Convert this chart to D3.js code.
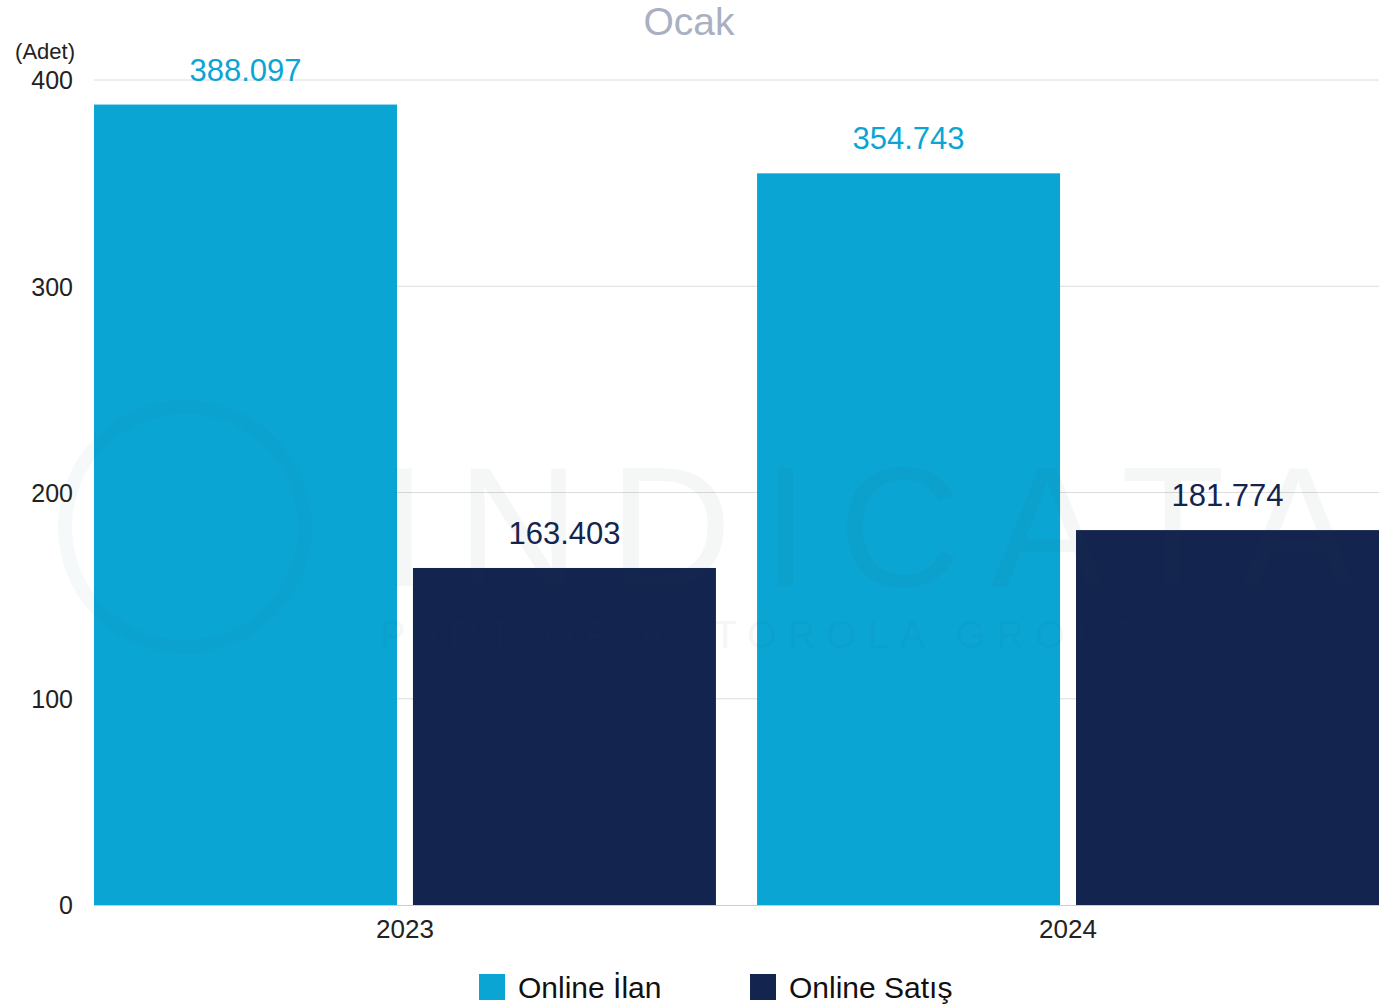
<!DOCTYPE html>
<html><head><meta charset="utf-8">
<script src="https://cdn.jsdelivr.net/npm/d3@7"></script>
<style>body{margin:0;background:#fff}svg{display:block}text{font-family:"Liberation Sans",Arial,sans-serif}</style>
</head><body>
<svg id="c" width="1396" height="1008"></svg>
<script>
const categories = ["2023", "2024"];
const seriesNames = ["Online İlan", "Online Satış"];
const onlineIlan = [388.097, 354.743];
const onlineSatis = [163.403, 181.774];
const yTicks = [0, 100, 200, 300, 400];
const colors = ["#0ba5d4", "#13244e"];
const labelColors = ["#0ba5d4", "#13244e"];

(function () {
const svg = d3.select("#c");
const mLeft = 94, mRight = 1379, mTop = 80, mBottom = 905;
const y = d3.scaleLinear().domain([0, 400]).range([mBottom, mTop]);
const x0 = d3.scaleBand().domain(categories).range([mLeft, mRight]).paddingInner(0.062).paddingOuter(0);
const x1 = d3.scaleBand().domain(seriesNames).range([0, x0.bandwidth()]).paddingInner(0.05);

const data = categories.map((c, i) => ({cat: c, vals: [onlineIlan[i], onlineSatis[i]]}));

// title
svg.append("text").attr("x", 689).attr("y", 35).attr("text-anchor", "middle")
  .attr("font-size", 39).attr("fill", "#a9b0c3").text("Ocak");

// gridlines
svg.append("g").selectAll("line").data(yTicks.filter(d => d > 0)).join("line")
  .attr("x1", mLeft).attr("x2", mRight).attr("y1", d => y(d)).attr("y2", d => y(d))
  .attr("stroke", "#dcdcdc").attr("stroke-width", 1);

// y axis
const yAxis = svg.append("g").attr("transform", `translate(${mLeft - 21},0)`)
  .call(d3.axisLeft(y).tickValues(yTicks).tickSize(0).tickPadding(0));
yAxis.select(".domain").remove();
yAxis.selectAll("text").attr("font-size", 25).attr("fill", "#222").attr("dy", "0.35em")
  .style("font-family", '"Liberation Sans",Arial,sans-serif');
svg.append("text").attr("x", 75).attr("y", 59).attr("text-anchor", "end")
  .attr("font-size", 22).attr("fill", "#222").text("(Adet)");

// bars
const g = svg.append("g");
const groups = g.selectAll("g").data(data).join("g").attr("transform", d => `translate(${x0(d.cat)},0)`);
groups.selectAll("rect").data(d => d.vals.map((v, i) => ({v, i}))).join("rect")
  .attr("x", d => x1(seriesNames[d.i])).attr("width", x1.bandwidth())
  .attr("y", d => y(d.v)).attr("height", d => y(0) - y(d.v))
  .attr("fill", d => colors[d.i]);

// watermark
const wm = svg.append("g").attr("opacity", 0.045).attr("pointer-events", "none");
wm.append("circle").attr("cx", 185).attr("cy", 527).attr("r", 120).attr("fill", "none").attr("stroke", "#2a6a7a").attr("stroke-width", 14);
wm.append("text").attr("x", 380).attr("y", 586).attr("font-size", 170)
  .attr("textLength", 975).attr("lengthAdjust", "spacing").attr("fill", "#2a4a50").text("INDICATA");
wm.append("text").attr("x", 380).attr("y", 648).attr("font-size", 38)
  .attr("textLength", 760).attr("lengthAdjust", "spacing").attr("fill", "#2a4a50").text("PART OF AUTOROLA GROUP");

groups.selectAll("text").data(d => d.vals.map((v, i) => ({v, i}))).join("text")
  .attr("x", d => x1(seriesNames[d.i]) + x1.bandwidth() / 2).attr("y", d => y(d.v) - 24)
  .attr("text-anchor", "middle").attr("font-size", 31).attr("fill", d => labelColors[d.i])
  .text(d => d.v.toFixed(3));
groups.raise();

// baseline
svg.append("line").attr("x1", mLeft).attr("x2", mRight).attr("y1", mBottom + 0.5).attr("y2", mBottom + 0.5)
  .attr("stroke", "#cccccc");

// x axis
const xAxis = svg.append("g").attr("transform", `translate(0,${mBottom})`)
  .call(d3.axisBottom(x0).tickSize(0).tickPadding(0));
xAxis.select(".domain").remove();
xAxis.selectAll("text").attr("font-size", 26).attr("fill", "#222").attr("dy", 0).attr("y", 33)
  .style("font-family", '"Liberation Sans",Arial,sans-serif');

// legend
const legX = [479, 750];
const leg = svg.append("g").selectAll("g").data(seriesNames).join("g")
  .attr("transform", (d, i) => `translate(${legX[i]},974)`);
leg.append("rect").attr("width", 26).attr("height", 26).attr("fill", (d, i) => colors[i]);
leg.append("text").attr("x", 39).attr("y", 24).attr("font-size", 30).attr("fill", "#111").text(d => d);
})();
</script>
</body></html>
